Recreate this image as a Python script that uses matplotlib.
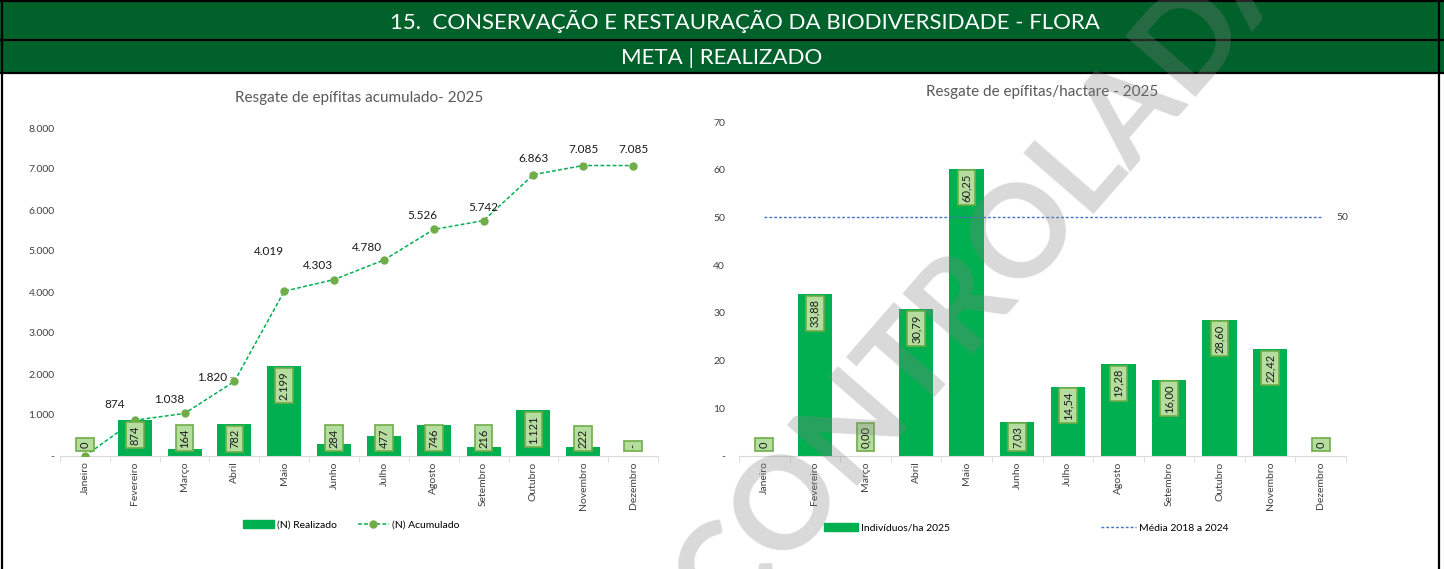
import matplotlib
matplotlib.use("Agg")
import matplotlib.pyplot as plt
from matplotlib.patches import Rectangle
from matplotlib.lines import Line2D
from matplotlib.patches import Patch

plt.rcParams['font.family'] = ['Lato', 'DejaVu Sans']

months = ['Janeiro', 'Fevereiro', 'Março', 'Abril', 'Maio', 'Junho', 'Julho',
          'Agosto', 'Setembro', 'Outubro', 'Novembro', 'Dezembro']

# left chart: rescued epiphytes
realizado = [0, 874, 164, 782, 2199, 284, 477, 746, 216, 1121, 222, None]
acumulado = [0, 874, 1038, 1820, 4019, 4303, 4780, 5526, 5742, 6863, 7085, 7085]
left_yticks = [0, 1000, 2000, 3000, 4000, 5000, 6000, 7000, 8000]

# right chart: individuals per hectare
ha_2025 = [0, 33.88, 0.00, 30.79, 60.25, 7.03, 14.54, 19.28, 16.00, 28.60, 22.42, 0]
ha_labels = ['0', '33,88', '0,00', '30,79', '60,25', '7,03', '14,54', '19,28',
             '16,00', '28,60', '22,42', '0']
media_2018_2024 = 50
right_yticks = [0, 10, 20, 30, 40, 50, 60, 70]

W, H = 1444, 569
GREEN = '#00B050'
HEADER = '#00612B'
BOX_FC = '#B6DDA0'
BOX_EC = '#70AD47'
TXT = '#404040'


def fmt_thousands(v):
    return f"{v:,.0f}".replace(',', '.')


def px_axes(x0, x1, y_top, y_bot):
    return fig.add_axes([x0 / W, (H - y_bot) / H, (x1 - x0) / W, (y_bot - y_top) / H])


fig = plt.figure(figsize=(W / 100, H / 100), dpi=100)

# header and frame drawn in pixel coordinates
bg = fig.add_axes([0, 0, 1, 1], zorder=-5)
bg.set_xlim(0, W)
bg.set_ylim(H, 0)
bg.axis('off')
bg.add_patch(Rectangle((0, 0), W, 39, fc=HEADER, ec='none'))
bg.add_patch(Rectangle((0, 40), W, 33, fc=HEADER, ec='none'))
for y in [0.5, 39.5, 73]:
    bg.plot([0, W], [y, y], color='black', lw=1.6)
bg.plot([2, 2], [0, H], color='black', lw=1.6)
bg.plot([1439, 1439], [0, H], color='black', lw=1.6)
bg.text(745, 21, '15.  CONSERVAÇÃO E RESTAURAÇÃO DA BIODIVERSIDADE - FLORA',
        color='white', fontsize=16, ha='center', va='center')
bg.text(W / 2, 58, 'META | REALIZADO', color='white', fontsize=16,
        ha='center', va='center')


def style_axes(ax, yticks, yticklabels):
    ax.set_xlim(-0.5, 11.5)
    for s in ['top', 'right', 'left']:
        ax.spines[s].set_visible(False)
    ax.spines['bottom'].set_color('#D9D9D9')
    ax.set_yticks(yticks)
    ax.set_yticklabels(yticklabels, fontsize=7.5, color=TXT)
    ax.tick_params(axis='y', length=0, pad=10)
    ax.set_xticks(range(12))
    ax.set_xticklabels(months, rotation=90, fontsize=7.5, color=TXT)
    ax.tick_params(axis='x', length=0, pad=4)
    ax.set_xticks([i + 0.5 for i in range(-1, 12)], minor=True)
    ax.tick_params(axis='x', which='minor', length=4, color='#D9D9D9')
    ax.set_facecolor('none')


def box_labels(ax, xs, vals, texts):
    renderer = fig.canvas.get_renderer()
    base = ax.transData.transform((0, 0))[1]
    inv = ax.transData.inverted()
    items = []
    for x, v, s in zip(xs, vals, texts):
        top = ax.transData.transform((x, v))[1] - 5
        t = ax.text(x, inv.transform((0, top))[1], s, rotation=90, ha='center',
                    va='top', fontsize=8, color='#1A1A1A', zorder=5,
                    bbox=dict(boxstyle='square,pad=0.3', fc=BOX_FC, ec=BOX_EC, lw=1.2))
        items.append(t)
    fig.canvas.draw()
    for t in items:
        bb = t.get_bbox_patch().get_window_extent(renderer)
        if bb.y0 < base + 4:
            t.set_va('bottom')
            t.set_y(inv.transform((0, base + 8))[1])


# ---------- left chart ----------
axl = px_axes(60, 658, 128, 456)
style_axes(axl, left_yticks, ['-' if v == 0 else fmt_thousands(v) for v in left_yticks])
axl.tick_params(axis='y', pad=4)
axl.set_ylim(0, 8000)
x = list(range(12))
bar_vals = [v if v is not None else 0 for v in realizado]
axl.bar(x, bar_vals, width=0.68, color=GREEN, zorder=2)
axl.plot(x, acumulado, color=GREEN, ls=(0, (2.5, 1.5)), lw=1.1, marker='o',
         ms=5, mfc='#70AD47', mec='#70AD47', zorder=4)
acc_offsets = [None, (-20, 16), (-15, 14), (-22, 4), (-15, 40), (-16, 14), (-17, 13),
               (-11, 14), (0, 13), (0, 16), (0, 16), (0, 16)]
for i, (v, off) in enumerate(zip(acumulado, acc_offsets)):
    if off is None:
        continue
    kw = {}
    if i == 3:
        kw = dict(arrowprops=dict(arrowstyle='-', color='#A6A6A6', lw=0.8,
                                  connectionstyle='angle,angleA=0,angleB=90,rad=0',
                                  shrinkA=0, shrinkB=3))
    axl.annotate(fmt_thousands(v), (i, v), xytext=off, textcoords='offset pixels',
                 ha='center', va='center', fontsize=8.5, color='#1A1A1A', zorder=6, **kw)
axl.set_title('Resgate de epífitas acumulado- 2025', fontsize=11, color='#595959', pad=19)
box_labels(axl, x, bar_vals,
           ['-' if v is None else fmt_thousands(v) for v in realizado])
axl.legend(handles=[Patch(color=GREEN, label='(N) Realizado'),
                    Line2D([], [], color=GREEN, ls=(0, (2.5, 1.5)), lw=1.1, marker='o',
                           ms=5, mfc='#70AD47', mec='#70AD47', label='(N) Acumulado')],
           loc='center', bbox_to_anchor=(351 / W, (H - 525) / H),
           bbox_transform=fig.transFigure, ncol=2, frameon=False, fontsize=7.5,
           handlelength=3.0, handleheight=0.7, columnspacing=2.0, handletextpad=0.3)

# ---------- right chart ----------
axr = px_axes(739, 1346, 122, 456)
style_axes(axr, right_yticks, ['-' if v == 0 else str(v) for v in right_yticks])
axr.set_ylim(0, 70)
axr.bar(x, ha_2025, width=0.68, color=GREEN, zorder=2)
axr.plot([0, 11], [media_2018_2024, media_2018_2024], color='#4472C4',
         ls=(0, (2, 1.5)), lw=1.0, zorder=3)
axr.annotate(str(media_2018_2024), (11, media_2018_2024), xytext=(16, 0),
             textcoords='offset pixels', va='center', fontsize=7.5, color=TXT)
axr.set_title('Resgate de epífitas/hactare - 2025', fontsize=11, color='#595959', pad=19)
box_labels(axr, x, ha_2025, ha_labels)
axr.legend(handles=[Patch(color=GREEN, label='Indivíduos/ha 2025'),
                    Line2D([], [], color='#4472C4', ls=(0, (2, 1.5)), lw=1.0,
                           label='Média 2018 a 2024')],
           loc='center', bbox_to_anchor=(1026 / W, (H - 528) / H),
           bbox_transform=fig.transFigure, ncol=2, frameon=False, fontsize=7.5,
           handlelength=3.3, handleheight=0.7, columnspacing=14.5, handletextpad=0.3)

# watermark
fig.text(990 / W, (H - 272) / H, 'CONTROLADA', fontsize=92, fontweight='bold',
         color='#808080', alpha=0.3, rotation=49, ha='center', va='center',
         zorder=20)

fig.savefig('out.png', dpi=100)
